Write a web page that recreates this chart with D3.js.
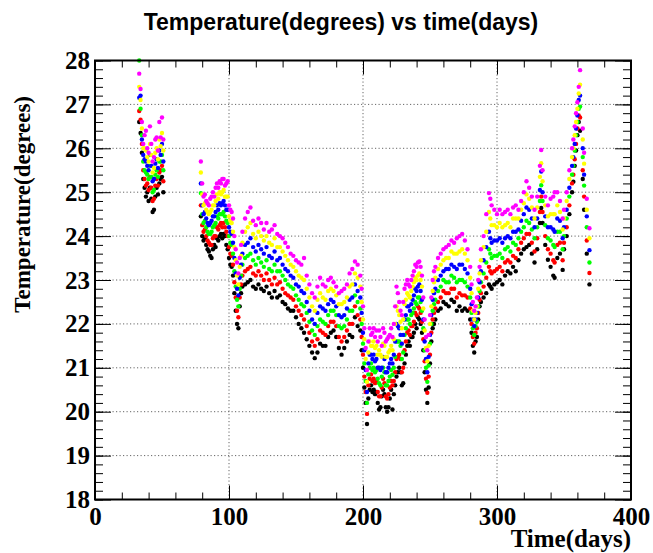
<!DOCTYPE html>
<html>
<head>
<meta charset="utf-8">
<title>Temperature(degrees) vs time(days)</title>
<style>
  body { margin: 0; background: #fff; }
  svg { display: block; }
  .tick text { font-family: "Liberation Serif", "DejaVu Serif", serif; font-weight: bold; font-size: 25px; fill: #000; }
  .tick line { stroke: #000; stroke-width: 1; }
  .grid line { stroke: #666; stroke-width: 1; stroke-dasharray: 1.2,2.3; }
</style>
</head>
<body>
<script src="https://cdn.jsdelivr.net/npm/d3@7"></script>
<script>
// days of measurement
const days = [
  33,34,35,36,37,38,39,40,41,42,43,44,45,46,47,48,49,50,51,
  79,80,81,82,83,84,85,86,87,88,89,90,91,92,93,94,95,96,97,98,99,100,101,102,103,104,105,106,107,108,109,110,
  112,114,116,118,120,122,124,126,128,130,132,134,136,138,140,142,144,146,148,150,152,154,156,158,160,162,164,166,168,170,172,174,176,178,180,182,184,186,188,190,192,194,196,198,
  199,200,201,202,203,204,205,206, 207,208,209,210,211,212,213,214, 215,216,217,218,219,220,221,222,
  223,224,225,226,227,228,229,230, 231,232,233,234,235,236,237,238, 239,240,241,242,243,244,245,246,
  247,248,249,250,251,252,253,254,
  256,258,260,262,264,266,268,270,272,274,276,278, 280,281,282,283,284,285,286,287,288, 290,292,294,295,296,298,300,
  302,304,306,308,310,312,314,316,318,320,322,324,326,328,330,
  332,333,334,336,338,340,342,343,345,347,349,350,
  352,354,356,357,358,359,360,361,362,364,365,367,369
];

// one array per sensor (black, red, green, blue, yellow, magenta markers)
const sensorBlack = [
  26.6,26.35,25.9,25.3,25.1,24.9,25.0,24.8,25.1,24.85,24.55,24.6,24.9,25.1,24.95,25.2,25.3,25.35,25.0,
  24.45,24.0,23.9,23.95,23.8,23.7,23.65,23.55,23.5,23.7,23.8,23.75,23.95,23.9,24.0,24.05,23.95,24.05,24.0,23.8,23.7,23.5,23.35,23.3,23.1,22.7,22.3,22.0,21.9,22.4,22.7,22.85,
  22.9,22.95,23.0,22.85,22.8,22.9,22.8,22.75,22.85,22.7,22.6,22.75,22.6,22.65,22.5,22.45,22.35,22.3,22.3,22.15,22.0,21.9,21.8,21.65,21.5,21.35,21.22,21.35,21.55,21.5,21.5,21.7,21.8,21.85,21.7,21.45,21.3,21.45,21.6,21.75,21.7,22.15,21.95,21.85,
  21.4,21.0,20.55,20.2,19.72,20.3,20.5,20.6, 20.45,20.5,20.4,20.45,20.2,20.05,20.1,20.35, 20.5,20.4,20.1,20.0,20.1,20.3,20.5,20.05,
  20.4,20.6,20.8,20.9,21.0,20.9,20.6,20.65, 21.1,21.3,21.5,21.6,21.5,21.7,21.7,21.8, 22.0,21.9,22.15,22.1,22.0,21.8,21.4,20.9,
  20.5,20.2,20.55,21.1,21.6,21.9,22.0,22.1,
  22.3,22.35,22.5,22.45,22.4,22.55,22.5,22.3,22.4,22.3,22.35,22.3, 22.1,21.8,21.5,21.35,21.6,21.7,22.1,22.4,22.5, 22.6,22.7,22.9,22.85,22.8,22.9,22.95,
  23.0,22.9,23.1,23.2,23.15,23.3,23.2,23.45,23.6,23.7,23.75,23.8,23.6,23.4,23.7,
  24.3,24.64,24.3,23.8,23.46,23.3,23.1,23.05,23.5,23.6,23.23,23.7,
  24.0,24.5,25.0,25.24,25.6,25.95,26.3,26.6,26.4,25.3,24.6,23.6,22.9
];
const sensorRed = [
  26.85,26.65,26.1,25.5,25.3,25.15,25.2,25.05,25.35,25.1,24.8,24.85,25.15,25.3,25.15,25.45,25.5,25.6,25.25,
  24.7,24.25,24.1,24.15,24.0,23.9,23.85,23.8,23.8,23.95,24.0,24.0,24.2,24.15,24.25,24.3,24.2,24.3,24.2,24.1,24.0,23.75,23.6,23.55,23.35,22.95,22.6,22.3,22.15,22.6,22.9,23.1,
  23.2,23.25,23.3,23.15,23.1,23.2,23.1,23.0,23.15,23.0,22.9,23.05,22.9,22.95,22.8,22.7,22.65,22.6,22.55,22.4,22.3,22.2,22.1,21.95,21.8,21.6,21.5,21.65,21.85,21.8,21.75,21.95,22.05,22.05,21.95,21.7,21.6,21.7,21.85,22.0,22.0,22.4,22.2,22.1,
  21.7,21.3,20.8,20.45,19.95,20.6,20.75,20.85, 20.7,20.75,20.65,20.7,20.45,20.35,20.35,20.55, 20.75,20.65,20.35,20.3,20.4,20.55,20.7,20.6,
  20.7,20.9,21.2,21.25,21.3,21.2,20.9,21.0, 21.4,21.6,21.8,21.85,21.75,21.95,21.95,22.05, 22.25,22.2,22.4,22.35,22.25,22.05,21.65,21.15,
  20.75,20.43,20.8,21.3,21.8,22.1,22.25,22.35,
  22.5,22.6,22.75,22.7,22.7,22.8,22.8,22.6,22.7,22.65,22.65,22.6, 22.35,22.0,21.7,21.55,21.8,21.9,22.25,22.55,22.7, 22.85,23.05,23.3,23.2,23.15,23.2,23.25,
  23.3,23.2,23.4,23.45,23.4,23.55,23.5,23.7,23.85,23.95,24.05,24.05,23.85,23.65,23.95,
  24.55,24.9,24.55,24.0,23.7,23.6,23.45,23.4,23.8,23.85,23.45,23.85,
  24.2,24.7,25.2,25.4,25.75,26.1,26.45,26.75,26.7,25.5,24.9,23.9,23.16
];
const sensorGreen = [
  28.0,26.9,26.3,25.7,25.5,25.45,25.4,25.3,25.6,25.35,25.0,25.05,25.4,25.5,25.35,25.7,25.7,25.85,25.5,
  24.98,24.5,24.3,24.35,24.2,24.1,24.05,24.05,24.1,24.2,24.25,24.3,24.45,24.4,24.5,24.5,24.5,24.55,24.45,24.35,24.3,24.0,23.85,23.8,23.6,23.2,22.85,22.55,22.4,22.8,23.1,23.35,
  23.5,23.55,23.6,23.45,23.35,23.5,23.4,23.3,23.45,23.25,23.2,23.35,23.2,23.2,23.1,23.0,22.9,22.85,22.8,22.65,22.55,22.45,22.4,22.25,22.05,21.85,21.75,21.95,22.1,22.05,22.0,22.2,22.3,22.3,22.2,21.95,21.9,21.95,22.1,22.3,22.3,22.65,22.5,22.35,
  22.0,21.55,21.1,20.7,20.2,20.85,21.0,21.1, 20.95,21.0,20.9,20.95,20.75,20.65,20.6,20.8, 21.0,20.9,20.6,20.6,20.7,20.8,20.95,20.84,
  21.0,21.25,21.6,21.6,21.6,21.5,21.2,21.35, 21.75,21.9,22.1,22.1,22.0,22.2,22.25,22.35, 22.5,22.45,22.6,22.6,22.5,22.3,21.9,21.4,
  21.0,20.68,21.05,21.55,22.0,22.3,22.45,22.55,
  22.75,22.85,23.0,22.95,22.95,23.1,23.05,22.95,23.0,23.0,22.95,22.85, 22.6,22.25,21.9,21.75,21.95,22.05,22.4,22.75,22.95, 23.15,23.4,23.7,23.6,23.5,23.55,23.55,
  23.6,23.5,23.7,23.75,23.65,23.85,23.8,23.95,24.1,24.2,24.35,24.3,24.15,23.95,24.2,
  24.8,25.16,24.8,24.25,23.95,23.9,23.8,23.75,24.1,24.1,23.7,24.0,
  24.4,24.9,25.4,25.6,25.95,26.3,26.6,26.9,26.95,25.8,25.15,24.2,23.4
];
const sensorBlue = [
  27.15,27.2,26.2,25.85,25.75,25.7,25.6,25.5,25.85,25.6,25.25,25.3,25.65,25.75,25.55,25.95,25.85,26.1,25.7,
  25.2,24.7,24.5,24.55,24.4,24.3,24.25,24.3,24.35,24.45,24.45,24.55,24.7,24.6,24.75,24.7,24.75,24.8,24.7,24.6,24.6,24.2,24.1,24.05,23.85,23.5,23.15,22.8,22.65,23.05,23.35,23.6,
  23.8,23.85,23.95,23.75,23.65,23.8,23.7,23.6,23.75,23.55,23.5,23.65,23.45,23.5,23.35,23.25,23.2,23.1,23.05,22.9,22.85,22.75,22.7,22.5,22.3,22.1,22.0,22.25,22.4,22.35,22.3,22.45,22.55,22.5,22.4,22.2,22.15,22.2,22.35,22.55,22.6,22.9,22.75,22.6,
  22.25,21.8,21.4,20.95,20.45,21.1,21.3,21.3, 21.2,21.3,21.15,21.2,21.0,21.0,20.95,21.0, 21.25,21.2,20.9,20.9,21.0,21.1,21.2,21.1,
  21.3,21.6,22.0,21.95,21.9,21.75,21.55,21.75, 22.1,22.2,22.4,22.4,22.3,22.45,22.55,22.65, 22.8,22.75,22.85,22.9,22.75,22.55,22.1,21.6,
  21.2,20.9,21.25,21.75,22.2,22.55,22.7,22.8,
  23.0,23.1,23.2,23.25,23.25,23.35,23.3,23.25,23.35,23.35,23.25,23.15, 22.8,22.45,22.1,21.95,22.1,22.25,22.6,22.95,23.2, 23.45,23.75,24.1,23.95,23.85,23.9,23.9,
  23.95,23.85,23.95,24.0,23.95,24.1,24.1,24.15,24.35,24.5,24.65,24.6,24.4,24.2,24.4,
  25.05,25.47,25.0,24.45,24.2,24.2,24.15,24.1,24.4,24.35,23.95,24.2,
  24.6,25.1,25.6,25.8,26.1,26.45,26.75,27.1,27.2,26.0,25.4,24.45,23.68
];
const sensorYellow = [
  27.4,27.1,26.45,26.0,26.0,25.95,25.8,25.7,26.1,25.85,25.45,25.55,25.9,26.0,25.75,26.2,26.05,26.35,25.95,
  25.45,24.95,24.7,24.75,24.6,24.55,24.5,24.55,24.6,24.7,24.7,24.8,24.95,24.85,25.0,24.95,25.0,25.05,24.9,24.9,24.9,24.45,24.35,24.3,24.1,23.75,23.45,23.1,22.9,23.3,23.55,23.85,
  24.1,24.2,24.3,24.05,23.95,24.1,24.0,23.9,24.0,23.85,23.8,23.95,23.75,23.75,23.65,23.55,23.45,23.35,23.3,23.2,23.1,23.05,23.0,22.8,22.6,22.4,22.3,22.55,22.7,22.6,22.55,22.75,22.8,22.75,22.65,22.45,22.45,22.5,22.6,22.85,22.9,23.15,23.05,22.85,
  22.5,22.1,21.65,21.2,20.68,21.35,21.6,21.5, 21.5,21.6,21.45,21.5,21.3,21.4,21.3,21.25, 21.55,21.5,21.25,21.25,21.35,21.4,21.5,21.4,
  21.65,22.0,22.4,22.3,22.2,22.05,21.9,22.1, 22.45,22.55,22.7,22.65,22.6,22.75,22.85,22.95, 23.05,23.0,23.1,23.15,23.0,22.85,22.35,21.85,
  21.45,21.15,21.5,22.0,22.4,22.75,22.95,23.05,
  23.25,23.35,23.45,23.5,23.5,23.65,23.6,23.6,23.65,23.7,23.6,23.45, 23.05,22.7,22.3,22.1,22.25,22.4,22.8,23.15,23.45, 23.75,24.1,24.55,24.4,24.25,24.25,24.2,
  24.3,24.2,24.25,24.3,24.2,24.4,24.4,24.4,24.6,24.75,24.95,24.85,24.65,24.4,24.65,
  25.35,25.66,25.25,24.7,24.45,24.5,24.5,24.5,24.7,24.55,24.15,24.4,
  24.8,25.3,25.8,26.0,26.3,26.6,26.9,27.25,27.45,26.2,25.65,24.6,23.95
];
const sensorMagenta = [
  27.7,27.35,26.6,26.1,26.3,26.4,26.0,25.9,26.5,26.1,25.7,25.8,26.2,26.25,25.95,26.6,26.25,26.7,26.2,
  25.7,25.2,24.9,24.95,24.8,24.75,24.7,24.85,24.9,25.0,24.9,25.1,25.2,25.1,25.25,25.2,25.3,25.3,25.15,25.2,25.25,24.7,24.6,24.55,24.4,24.0,23.7,23.4,23.15,23.5,23.8,24.1,
  24.4,24.55,24.65,24.35,24.25,24.4,24.3,24.15,24.3,24.1,24.15,24.25,24.05,24.0,23.95,23.85,23.75,23.6,23.55,23.45,23.4,23.35,23.5,23.1,22.9,22.7,22.6,22.85,23.05,22.9,22.85,23.0,23.05,22.95,22.85,22.7,22.75,22.8,22.9,23.15,23.25,23.42,23.35,23.1,
  22.8,22.4,21.9,21.45,20.95,21.6,21.9,21.75, 21.8,21.9,21.7,21.85,21.6,21.85,21.7,21.5, 21.9,21.8,21.6,21.65,21.7,21.75,21.9,21.7,
  22.0,22.4,22.85,22.7,22.5,22.3,22.2,22.5, 22.8,22.9,23.0,22.9,22.85,23.0,23.1,23.2, 23.35,23.3,23.4,23.42,23.3,23.1,22.6,22.1,
  21.7,21.4,21.75,22.2,22.6,23.0,23.2,23.3,
  23.5,23.6,23.7,23.75,23.8,23.9,23.85,23.95,24.0,24.05,23.9,23.7, 23.3,22.9,22.5,22.3,22.4,22.6,23.0,23.3,23.7, 24.0,24.5,24.98,24.85,24.7,24.6,24.5,
  24.6,24.5,24.55,24.6,24.5,24.65,24.7,24.6,24.8,25.0,25.25,25.1,24.9,24.6,24.9,
  25.6,25.96,25.5,24.9,24.7,24.85,24.9,25.0,25.0,24.8,24.4,24.6,
  25.0,25.5,26.0,26.2,26.5,26.8,27.05,27.4,27.78,26.45,25.9,24.85,24.18
];

const series = [
  {color: "#000000", values: sensorBlack},
  {color: "#ff0000", values: sensorRed},
  {color: "#00ff00", values: sensorGreen},
  {color: "#0000ff", values: sensorBlue},
  {color: "#ffff00", values: sensorYellow},
  {color: "#ff00ff", values: sensorMagenta}
];

const xMajor = [0, 100, 200, 300, 400];
const xMinor = d3.range(0, 401, 20);
const yMajor = [18, 19, 20, 21, 22, 23, 24, 25, 26, 27, 28];
const yMinor = d3.range(18, 28.001, 0.2).map(v => +v.toFixed(1));

const width = 653, height = 553;
const frameLeft = 95, frameRight = 631, frameTop = 60.5, frameBottom = 499.5;

const svg = d3.select("body").append("svg")
  .attr("width", width)
  .attr("height", height);

const x = d3.scaleLinear().domain([0, 400]).range([frameLeft, frameRight]);
const y = d3.scaleLinear().domain([18, 28]).range([frameBottom, frameTop]);

// grid
const grid = svg.append("g").attr("class", "grid");
grid.selectAll("line.gx")
  .data(xMajor.slice(1, -1))
  .enter().append("line")
    .attr("class", "gx")
    .attr("x1", d => x(d)).attr("x2", d => x(d))
    .attr("y1", frameTop).attr("y2", frameBottom);
grid.selectAll("line.gy")
  .data(yMajor.slice(1, -1))
  .enter().append("line")
    .attr("class", "gy")
    .attr("x1", frameLeft).attr("x2", frameRight)
    .attr("y1", d => y(d)).attr("y2", d => y(d));

// axes, ticks inside the frame like ROOT
function noDomain(g) { g.select(".domain").remove(); }

svg.append("g").attr("transform", `translate(0,${frameBottom})`)
  .call(d3.axisBottom(x).tickValues(xMinor).tickSize(-7).tickFormat(""))
  .call(noDomain);
svg.append("g").attr("transform", `translate(0,${frameBottom})`)
  .call(d3.axisBottom(x).tickValues(xMajor).tickSize(-14).tickPadding(8).tickFormat(d3.format("d")))
  .call(noDomain);
svg.append("g").attr("transform", `translate(0,${frameTop})`)
  .call(d3.axisTop(x).tickValues(xMinor).tickSize(-7).tickFormat(""))
  .call(noDomain);
svg.append("g").attr("transform", `translate(0,${frameTop})`)
  .call(d3.axisTop(x).tickValues(xMajor).tickSize(-14).tickFormat(""))
  .call(noDomain);

svg.append("g").attr("transform", `translate(${frameLeft},0)`)
  .call(d3.axisLeft(y).tickValues(yMinor).tickSize(-8).tickFormat(""))
  .call(noDomain);
svg.append("g").attr("transform", `translate(${frameLeft},0)`)
  .call(d3.axisLeft(y).tickValues(yMajor).tickSize(-16).tickPadding(5).tickFormat(d3.format("d")))
  .call(noDomain);
svg.append("g").attr("transform", `translate(${frameRight},0)`)
  .call(d3.axisRight(y).tickValues(yMinor).tickSize(-8).tickFormat(""))
  .call(noDomain);
svg.append("g").attr("transform", `translate(${frameRight},0)`)
  .call(d3.axisRight(y).tickValues(yMajor).tickSize(-16).tickFormat(""))
  .call(noDomain);

// markers
series.forEach(s => {
  svg.append("g")
    .selectAll("circle")
    .data(days.map((d, i) => ({day: d, v: s.values[i]})).filter(p => p.v !== undefined))
    .enter().append("circle")
      .attr("cx", p => x(p.day))
      .attr("cy", p => y(p.v))
      .attr("r", 2.2)
      .attr("fill", s.color);
});

// frame
svg.append("rect")
  .attr("x", frameLeft).attr("y", frameTop)
  .attr("width", frameRight - frameLeft).attr("height", frameBottom - frameTop)
  .attr("fill", "none")
  .attr("stroke", "#000")
  .attr("stroke-width", 2);

// titles
svg.append("text")
  .attr("x", 341).attr("y", 30)
  .attr("text-anchor", "middle")
  .attr("font-family", "Liberation Sans, Arial, sans-serif")
  .attr("font-weight", "bold")
  .attr("font-size", 23)
  .text("Temperature(degrees) vs time(days)");

svg.append("text")
  .attr("x", frameRight).attr("y", 547)
  .attr("text-anchor", "end")
  .attr("font-family", "Liberation Serif, serif")
  .attr("font-weight", "bold")
  .attr("font-size", 25)
  .text("Time(days)");

svg.append("text")
  .attr("transform", "translate(30,96) rotate(-90)")
  .attr("text-anchor", "end")
  .attr("font-family", "Liberation Serif, serif")
  .attr("font-weight", "bold")
  .attr("font-size", 23)
  .text("Temperature(degrees)");
</script>
</body>
</html>
